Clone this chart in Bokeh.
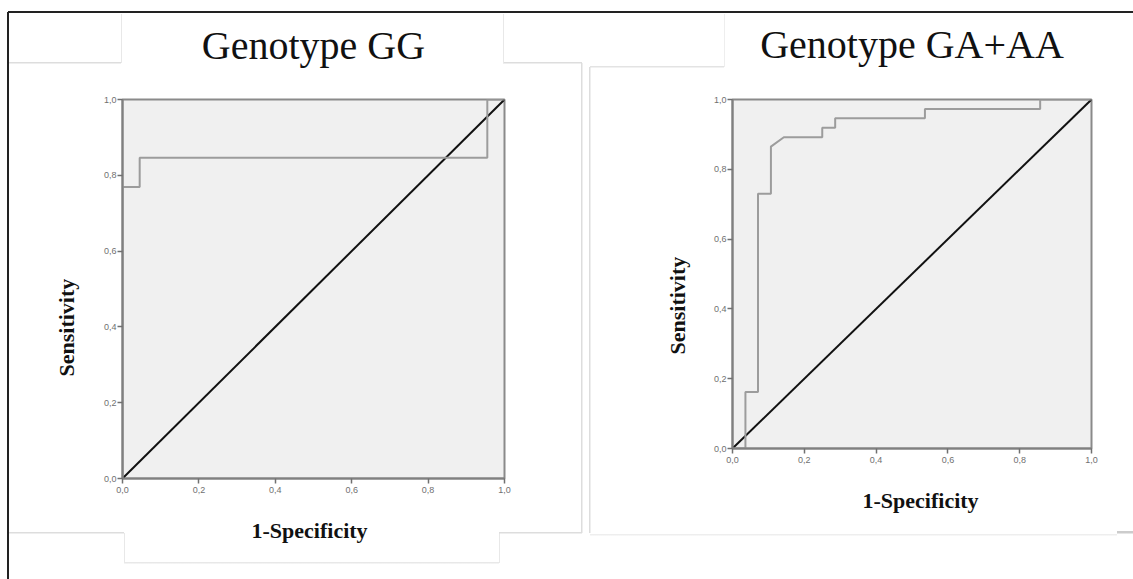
from bokeh.plotting import figure
from bokeh.layouts import row
from bokeh.models import Range1d, FixedTicker, Title, LinearAxis
from bokeh.embed import file_html
from bokeh.resources import INLINE

# ---------------- data ----------------
tick_vals = [0.0, 0.2, 0.4, 0.6, 0.8, 1.0]
tick_labels = ["0,0", "0,2", "0,4", "0,6", "0,8", "1,0"]

gg_fpr = [0.0, 0.0, 0.045, 0.045, 0.955, 0.955, 1.0]
gg_tpr = [0.0, 0.769, 0.769, 0.846, 0.846, 1.0, 1.0]

gaaa_fpr = [0.0, 0.036, 0.036, 0.071, 0.071, 0.107, 0.107, 0.143, 0.250, 0.250,
            0.286, 0.286, 0.536, 0.536, 0.857, 0.857, 1.0]
gaaa_tpr = [0.0, 0.0, 0.162, 0.162, 0.730, 0.730, 0.865, 0.892, 0.892, 0.919,
            0.919, 0.946, 0.946, 0.973, 0.973, 1.0, 1.0]

ref_x = [0.0, 1.0]
ref_y = [0.0, 1.0]

titles = ["Genotype GG", "Genotype GA+AA"]
x_title = "1-Specificity"
y_title = "Sensitivity"

# decorative page frame (page pixel coords): (x0, y0, x1, y1, color, width)
deco = [
    (8, 12, 1133, 12, "#222222", 2),
    (8, 12, 8, 579, "#222222", 2),
    (9, 63, 121, 63, "#dddddd", 1.5), (121, 14, 121, 63, "#e8e8e8", 1),
    (503, 14, 503, 63, "#e8e8e8", 1), (503, 63, 582, 63, "#dddddd", 1.5),
    (582, 63, 582, 533, "#dddddd", 1.5), (499, 533, 582, 533, "#dddddd", 1.5),
    (499, 533, 499, 563, "#e8e8e8", 1), (124, 563, 499, 563, "#e8e8e8", 1.5),
    (124, 533, 124, 563, "#e8e8e8", 1), (9, 533, 124, 533, "#dddddd", 1.5),
    (590, 67, 590, 533, "#dddddd", 1.5), (590, 67, 724, 67, "#e3e3e3", 1.5),
    (724, 14, 724, 67, "#eeeeee", 1), (590, 535, 1117, 535, "#eeeeee", 1.5),
    (1117, 532, 1133, 532, "#cccccc", 2.5),
]

SERIF = "Liberation Serif"


def deco_css():
    imgs, sizes, poss = [], [], []
    for x0, y0, x1, y1, c, w in deco:
        imgs.append(f"linear-gradient({c},{c})")
        if y0 == y1:
            sizes.append(f"{x1 - x0}px {w}px")
            poss.append(f"{x0}px {y0 - w / 2}px")
        else:
            sizes.append(f"{w}px {y1 - y0}px")
            poss.append(f"{x0 - w / 2}px {y0}px")
    return {"background-image": ", ".join(imgs),
            "background-size": ", ".join(sizes),
            "background-position": ", ".join(poss),
            "background-repeat": "no-repeat",
            "background-color": "white"}


def make_panel(fpr, tpr, title, fw, fh, bl, br, bt, bb, title_size,
               title_standoff, ylab_standoff, ylab_offset,
               xlab_standoff, xlab_offset):
    p = figure(frame_width=fw, frame_height=fh, title=None,
               min_border_left=bl, min_border_right=br,
               min_border_top=bt, min_border_bottom=bb,
               x_range=Range1d(0, 1), y_range=Range1d(0, 1),
               output_backend="svg", toolbar_location=None, tools="")
    p.background_fill_color = "#f0f0f0"
    p.border_fill_color = None
    p.outline_line_color = "#8a8a8a"
    p.outline_line_width = 2
    p.grid.visible = False
    for ax in (p.xaxis[0], p.yaxis[0]):
        ax.ticker = FixedTicker(ticks=tick_vals)
        ax.major_label_overrides = {v: s for v, s in zip(tick_vals, tick_labels)}
        ax.axis_line_color = "#808080"
        ax.axis_line_width = 2
        ax.major_tick_line_color = "#707070"
        ax.major_tick_line_width = 1.5
        ax.major_tick_out = 5
        ax.major_tick_in = 0
        ax.minor_tick_line_color = None
        ax.major_label_text_font = "Liberation Sans"
        ax.major_label_text_font_size = "9px"
        ax.major_label_text_color = "#707070"
    p.xaxis.major_label_standoff = 3
    p.yaxis.major_label_standoff = 1

    p.line(ref_x, ref_y, line_color="#111111", line_width=2)
    p.line(fpr, tpr, line_color="#9c9c9c", line_width=2)

    # chart title as the label of a bare axis above the frame
    top = LinearAxis(ticker=FixedTicker(ticks=[]), axis_label=title,
                     axis_line_color=None, major_tick_line_color=None,
                     minor_tick_line_color=None, major_tick_out=0,
                     major_tick_in=0, minor_tick_out=0,
                     axis_label_standoff=title_standoff,
                     axis_label_text_font=SERIF,
                     axis_label_text_font_size=f"{title_size}px",
                     axis_label_text_font_style="normal",
                     axis_label_text_color="#111111")
    p.add_layout(top, "above")

    p.add_layout(Title(text=y_title, align="left", text_font=SERIF,
                       text_font_size="22px", text_font_style="bold",
                       text_color="#111111", standoff=ylab_standoff,
                       offset=ylab_offset), "left")
    p.add_layout(Title(text=x_title, align="left", text_font=SERIF,
                       text_font_size="22px", text_font_style="bold",
                       text_color="#111111", standoff=xlab_standoff,
                       offset=xlab_offset), "below")
    return p


left = make_panel(gg_fpr, gg_tpr, titles[0], 382, 379, 122, 76, 98, 102, 40,
                  32, 44, 102, 41, 129)
right = make_panel(gaaa_fpr, gaaa_tpr, titles[1], 359, 349, 152, 42, 99, 131, 40,
                   33, 42, 94, 41, 130)

layout = row(left, right, spacing=0, styles=deco_css())
open("out.html", "w").write(file_html(layout, INLINE))
